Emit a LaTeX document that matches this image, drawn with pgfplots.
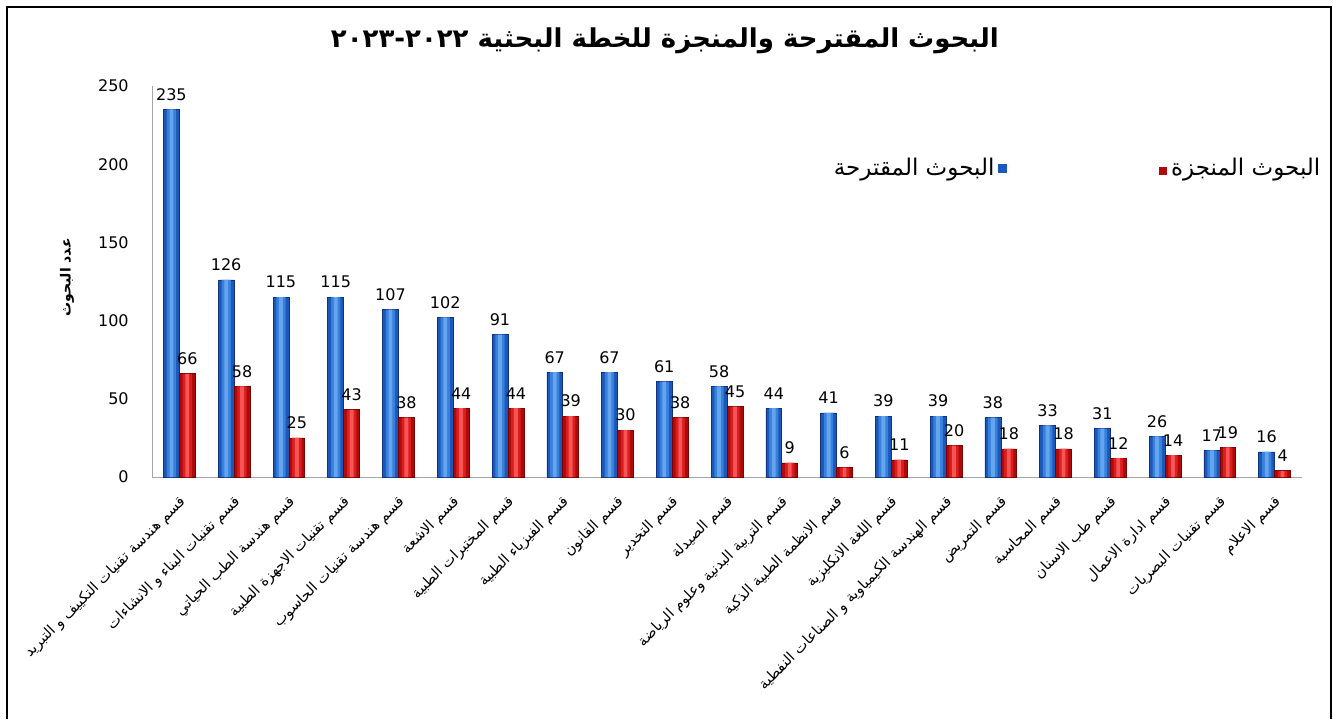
\documentclass[border=0pt]{standalone}
\usepackage{pgfplots}
\usepackage{pgfplotstable}
\pgfplotsset{compat=1.18}
\usepackage{fontspec}
\setmainfont{DejaVu Sans}
\newfontfamily\arabicfont[Script=Arabic]{DejaVu Sans}
\TeXXeTstate=1
\definecolor{blueE}{RGB}{15,50,130}
\definecolor{blueD}{RGB}{28,88,185}
\definecolor{blueM}{RGB}{55,128,220}
\definecolor{blueL}{RGB}{100,165,238}
\definecolor{redE}{RGB}{120,0,0}
\definecolor{redD}{RGB}{175,10,10}
\definecolor{redM}{RGB}{218,30,30}
\definecolor{redL}{RGB}{245,85,85}
\pgfplotstableread{
x v
1 235
2 126
3 115
4 115
5 107
6 102
7 91
8 67
9 67
10 61
11 58
12 44
13 41
14 39
15 39
16 38
17 33
18 31
19 26
20 17
21 16
}\proposed
\pgfplotstableread{
x v
1 66
2 58
3 25
4 43
5 38
6 44
7 44
8 39
9 30
10 38
11 45
12 9
13 6
14 11
15 20
16 18
17 18
18 12
19 14
20 19
21 4
}\done
\begin{document}
\begin{tikzpicture}
\useasboundingbox (0,0) rectangle (666.5pt,359.5pt);
\draw[black, line width=1pt] (3.5pt,0) -- (3.5pt,356pt) -- (665.5pt,356pt) -- (665.5pt,0);
\begin{axis}[
  at={(76pt,121pt)}, anchor=south west,
  scale only axis, width=575pt, height=195.5pt,
  xmin=0.5, xmax=21.5, ymin=0, ymax=250,
  axis x line=bottom, axis y line=left,
  axis line style={gray!70, -},
  tick style={draw=none},
  ytick={0,50,...,250},
  xtick={1,...,21},
  /pgf/number format/assume math mode=true,
  yticklabel style={font=\fontsize{8}{9}\selectfont, xshift=-6pt},
  xticklabel style={font=\arabicfont\fontsize{7.3}{8}\selectfont, xshift=2pt, yshift=-9pt, rotate=45, anchor=east, inner sep=0pt},
  xticklabels={
    {\beginR قسم هندسة تقنيات التكييف و التبريد\endR},
    {\beginR قسم تقنيات البناء و الانشاءات\endR},
    {\beginR قسم هندسة الطب الحياتي\endR},
    {\beginR قسم تقنيات الاجهزة الطبية\endR},
    {\beginR قسم هندسة تقنيات الحاسوب\endR},
    {\beginR قسم الاشعة\endR},
    {\beginR قسم المختبرات الطبية\endR},
    {\beginR قسم الفيزياء الطبية\endR},
    {\beginR قسم القانون\endR},
    {\beginR قسم التخدير\endR},
    {\beginR قسم الصيدلة\endR},
    {\beginR قسم التربية البدنية وعلوم الرياضة\endR},
    {\beginR قسم الانظمة الطبية الذكية\endR},
    {\beginR قسم اللغة الانكليزية\endR},
    {\beginR قسم الهندسة الكيمياوية و الصناعات النفطية\endR},
    {\beginR قسم التمريض\endR},
    {\beginR قسم المحاسبة\endR},
    {\beginR قسم طب الاسنان\endR},
    {\beginR قسم ادارة الاعمال\endR},
    {\beginR قسم تقنيات البصريات\endR},
    {\beginR قسم الاعلام\endR}},
  ylabel={\arabicfont\bfseries\beginR عدد البحوث\endR},
  ylabel style={font=\fontsize{7}{9}\selectfont, at={(axis description cs:-0.074,0.51)}, anchor=center},
  title={\arabicfont\bfseries\beginR البحوث المقترحة والمنجزة للخطة البحثية ٢٠٢٢-٢٠٢٣\endR},
  title style={font=\fontsize{13}{15}\selectfont, at={(axis description cs:0.446,1.085)}, anchor=center},
  legend columns=2,
  legend plot pos=right,
  legend style={draw=none, fill=none, at={(1.025,0.79)}, anchor=east, font=\arabicfont\fontsize{11.5}{13}\selectfont},
]
% proposed (blue), three layers for a cylinder look
\addplot[ybar, bar width=0.29, bar shift=-0.145, draw=blueE, line width=0.3pt, fill=blueD, forget plot,
  nodes near coords, every node near coord/.append style={text=black, font=\fontsize{8}{9}\selectfont, xshift=-4pt, yshift=1pt}]
  table[x=x, y=v] {\proposed};
\addplot[ybar, bar width=0.17, bar shift=-0.145, draw=none, fill=blueM, forget plot] table[x=x, y=v] {\proposed};
\addplot[ybar, bar width=0.07, bar shift=-0.145, draw=none, fill=blueL, forget plot] table[x=x, y=v] {\proposed};
% done (red)
\addplot[ybar, bar width=0.29, bar shift=0.145, draw=redE, line width=0.3pt, fill=redD, forget plot,
  nodes near coords, every node near coord/.append style={text=black, font=\fontsize{8}{9}\selectfont, xshift=4pt, yshift=1pt}]
  table[x=x, y=v] {\done};
\addplot[ybar, bar width=0.17, bar shift=0.145, draw=none, fill=redM, forget plot] table[x=x, y=v] {\done};
\addplot[ybar, bar width=0.07, bar shift=0.145, draw=none, fill=redL, forget plot] table[x=x, y=v] {\done};
\addlegendimage{legend image code/.code={\fill[blueD] (0pt,-2pt) rectangle (4pt,2pt);}}
\addlegendentry{\beginR البحوث المقترحة\endR}
\addlegendimage{legend image code/.code={}}
\addlegendentry{\hspace*{74pt}\textcolor{redD}{\rule{4pt}{4pt}}\,\beginR البحوث المنجزة\endR}
\end{axis}
\end{tikzpicture}
\end{document}
